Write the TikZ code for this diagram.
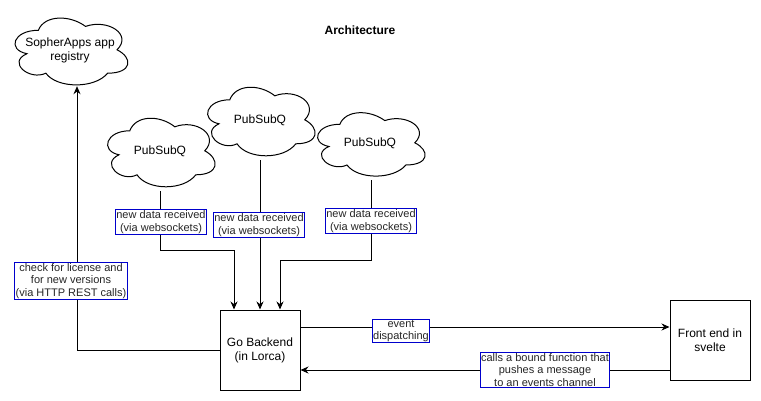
\documentclass[tikz,border=0pt]{standalone}
\usepackage{fontspec}
\setmainfont{Liberation Sans}
\usetikzlibrary{arrows.meta}
\newcommand\cloudoutline[3]{%
  \begin{scope}[shift={(#1.north west)},x=#2pt,y=-#3pt]
    \draw[line width=1pt] (0.25,0.25) .. controls (0.05,0.25) and (0,0.5) .. (0.16,0.55)
      .. controls (0,0.66) and (0.18,0.9) .. (0.31,0.8)
      .. controls (0.4,1) and (0.7,1) .. (0.8,0.8)
      .. controls (1,0.8) and (1,0.6) .. (0.875,0.5)
      .. controls (1,0.3) and (0.8,0.1) .. (0.625,0.2)
      .. controls (0.5,0.05) and (0.3,0.05) .. (0.25,0.25) -- cycle;
  \end{scope}}
\begin{document}
\begin{tikzpicture}[x=1pt,y=-1pt,
  cloudnode/.style={rectangle, font=\fontsize{12}{14}\selectfont, align=center, inner sep=0pt},
  boxnode/.style={draw=black, line width=1pt, fill=white, minimum width=80pt, minimum height=80pt, font=\fontsize{12}{14}\selectfont, align=center, inner sep=0pt},
  lbl/.style={draw=blue!80!black, line width=0.9pt, fill=white, text=black!85, font=\fontsize{11}{12.5}\selectfont, align=center, inner sep=1pt},
  conn/.style={line width=1pt, draw=black},
  arr/.style={conn, -{Stealth[length=8pt,width=7pt]}}]
\useasboundingbox (0,0) rectangle (761,401);
\node[font=\bfseries\fontsize{12}{14}\selectfont] (title) at (360,30) {Architecture};
\node[cloudnode, minimum width=126pt, minimum height=78pt] (c0) at (70,50) {SopherApps app\\registry};
\node[cloudnode, minimum width=120pt, minimum height=80pt] (c1) at (160,151) {PubSubQ};
\node[cloudnode, minimum width=120pt, minimum height=80pt] (c2) at (260,120) {PubSubQ};
\node[cloudnode, minimum width=120pt, minimum height=74pt] (c3) at (370,143) {PubSubQ};
\cloudoutline{c0}{126}{78}
\cloudoutline{c1}{120}{80}
\cloudoutline{c2}{120}{80}
\cloudoutline{c3}{120}{74}
\node[boxnode] (gb) at (260,350) {Go Backend\\(in Lorca)};
\node[boxnode] (fe) at (710,340) {Front end in\\svelte};
\coordinate (b1) at (160,250);
\coordinate (b3) at (371,260);
\draw[arr] (c1.south) -- (b1) -| ([xshift=-26pt]gb.north);
\draw[arr] (c2.south) -- (gb.north);
\draw[arr] ([xshift=1pt]c3.south) -- (b3) -| ([xshift=20pt]gb.north);
\draw[arr] (gb.west) -| ([xshift=7pt,yshift=3pt]c0.south);
\draw[arr] ([yshift=23pt]gb.east) -- ([yshift=23pt]gb.east -| fe.west);
\draw[arr] ([yshift=-30pt]fe.west) -- ([yshift=-30pt]fe.west -| gb.east);
\node[lbl] (l1) at (161,222) {new data received\\(via websockets)};
\node[lbl] (l2) at (259,225) {new data received\\(via websockets)};
\node[lbl] (l3) at (371,221) {new data received\\(via websockets)};
\node[lbl] (l4) at (71,281) {check for license and\\for new versions\\(via HTTP REST calls)};
\node[lbl] (l5) at (401,331) {event\\dispatching};
\node[lbl] (l6) at (545,370) {calls a bound function that\\pushes a message\\to an events channel};
\end{tikzpicture}
\end{document}
